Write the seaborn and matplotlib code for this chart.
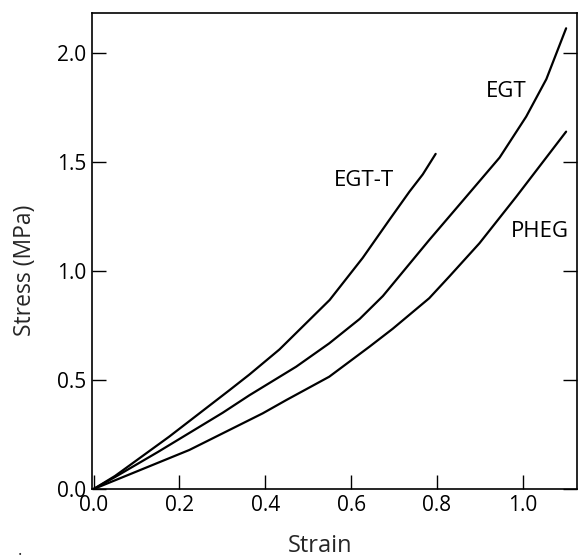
import matplotlib
matplotlib.use("Agg")
import matplotlib.pyplot as plt
import seaborn as sns
import pandas as pd

# Data
strain_egt_t = [0.0, 0.05, 0.176, 0.317, 0.363, 0.433, 0.55, 0.627, 0.689, 0.736, 0.767, 0.797]
stress_egt_t = [0.0, 0.06, 0.24, 0.454, 0.525, 0.64, 0.867, 1.06, 1.234, 1.364, 1.443, 1.537]

strain_egt = [0.0, 0.05, 0.15, 0.301, 0.363, 0.472, 0.549, 0.62, 0.674, 0.782, 0.868, 0.946, 1.008, 1.055, 1.101]
stress_egt = [0.0, 0.055, 0.17, 0.35, 0.43, 0.561, 0.668, 0.78, 0.885, 1.142, 1.34, 1.52, 1.708, 1.88, 2.113]

strain_pheg = [0.0, 0.05, 0.223, 0.394, 0.449, 0.549, 0.643, 0.697, 0.782, 0.829, 0.899, 0.985, 1.101]
stress_pheg = [0.0, 0.04, 0.179, 0.347, 0.408, 0.515, 0.653, 0.735, 0.875, 0.975, 1.127, 1.341, 1.639]

series_names = ["EGT-T", "EGT", "PHEG"]
label_x = [0.631, 0.961, 1.039]
label_y = [1.417, 1.822, 1.18]

x_ticks = [0.0, 0.2, 0.4, 0.6, 0.8, 1.0]
y_ticks = [0.0, 0.5, 1.0, 1.5, 2.0]

frames = []
for name, xs, ys in zip(series_names,
                        [strain_egt_t, strain_egt, strain_pheg],
                        [stress_egt_t, stress_egt, stress_pheg]):
    frames.append(pd.DataFrame({"Strain": xs, "Stress": ys, "Sample": name}))
df = pd.concat(frames, ignore_index=True)

sns.set_theme(style="ticks")
plt.rcParams["font.family"] = ["Open Sans", "DejaVu Sans"]

fig = plt.figure(figsize=(5.78, 5.59), dpi=100)
ax = fig.add_axes([0.159, 0.1252, 0.839, 0.8515])

sns.lineplot(data=df, x="Strain", y="Stress", units="Sample", estimator=None,
             sort=False, color="black", linewidth=1.6, ax=ax, legend=False)

ax.set_xlim(-0.004, 1.126)
ax.set_ylim(0.0, 2.183)
ax.set_xticks(x_ticks)
ax.set_xticklabels([f"{t:.1f}" for t in x_ticks])
ax.set_yticks(y_ticks)
ax.set_yticklabels([f"{t:.1f}" for t in y_ticks])

ax.tick_params(axis="both", direction="in", length=10, width=1.0,
               colors="black", labelsize=15, pad=4)
ax.tick_params(axis="y", right=True, left=True)
ax.tick_params(axis="x", top=False)
for s in ax.spines.values():
    s.set_visible(True)
    s.set_color("black")
    s.set_linewidth(1.2)

ax.set_xlabel("")
ax.set_ylabel("")
fig.text(0.554, 0.002, "Strain", ha="center", va="bottom", fontsize=17)
fig.text(0.043, 0.517, "Stress (MPa)", ha="center", va="center",
         rotation=90, fontsize=16.5)
fig.text(0.035, 0.008, ".", ha="center", va="baseline", fontsize=12)

for name, lx, ly in zip(series_names, label_x, label_y):
    ax.text(lx, ly, name, ha="center", va="center", fontsize=16, color="black")

fig.savefig("out.png", dpi=100)
